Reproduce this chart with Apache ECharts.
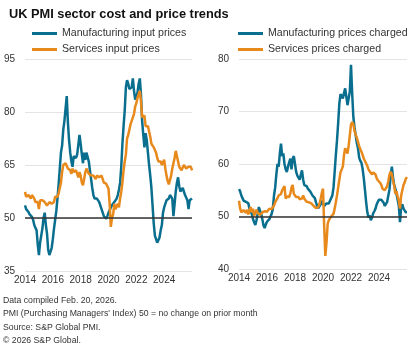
<!DOCTYPE html>
<html>
<head>
<meta charset="utf-8">
<script src="https://cdn.jsdelivr.net/npm/echarts@6.0.0/dist/echarts.min.js"></script>
<style>
  html, body { margin: 0; padding: 0; background: #fff; }
  #chart { width: 420px; height: 349px; }
</style>
</head>
<body>
<div id="chart"></div>
<script>
// monthly, Jan 2014 .. Jan 2026
var months = [];
for (var y = 2014; y <= 2026; y++) {
  for (var m = 1; m <= 12; m++) {
    if (y === 2026 && m > 1) break;
    months.push(y + '-' + (m < 10 ? '0' + m : m));
  }
}

var mfgInput = [
  53.6, 52.5, 52, 51.7, 51, 50.8, 50.3, 49.5, 48, 47.2, 46.5, 42.5,
  39.5, 43, 45, 47, 50, 51.5, 48, 45.5, 41, 39.5, 39.6, 41.5,
  44, 47, 49.5, 52, 55.5, 59.5, 64, 68.5, 70.5, 75, 77.5, 77,
  84.5, 77, 72, 68.5, 66, 64.5, 67.5, 68, 67, 68, 68.5, 73.5,
  71, 68, 65.5, 68.5, 66.5, 68.5, 68.5, 66, 63.5, 61, 58.5, 56.5,
  55.5, 55.3, 55.5, 55, 54.5, 53.5, 52.5, 51.5, 50.5, 50, 49.8, 50.5,
  51.5, 52, 53, 53.6, 54, 54.5, 55, 55.5, 56.5, 58, 60, 64.5,
  71, 76, 80.5, 87, 89, 88, 86.5, 86, 87, 89.5, 86, 83.5,
  83, 85.5, 88, 89.5, 85, 77.5, 73.5, 70, 74, 72, 68.5, 65,
  62, 58.5, 53.5, 48.5, 45, 44, 43, 43.5, 44.5, 46.5, 48, 51.5,
  53, 53.5, 55, 54.5, 55.5, 56.5, 57, 55.5, 50.5, 54, 57.5, 60,
  61.5, 59, 57.5, 58, 58.5, 57.5, 56.5, 56, 55, 52.5, 55, 55.5,
  55.5
];

var svcInput = [
  57.4, 56, 55.5, 56.5, 56, 55.5, 56.5, 56, 55.5, 54.5, 55, 54.5,
  52.5, 55, 54.5, 55, 55.5, 54.5, 54, 53.5, 54, 54.5, 54.5, 54,
  54, 54.5, 56, 56.5, 56, 57, 57.5, 60, 63, 65, 64.5, 65.5,
  66, 64, 64.5, 63.5, 62.5, 64, 63, 62.5, 63.5, 62.5, 61.5, 63,
  62, 60, 59.3, 61, 63, 64, 63.5, 62.5, 63, 62, 62.5, 62,
  61.5, 61, 62, 62.5, 61.5, 61.5, 62, 61, 60, 59.5, 59.7, 59,
  58.3, 54, 47.5, 50, 51, 54, 52.5, 53, 54, 53, 55.5, 57.5,
  60, 63.5, 66, 68, 72.5, 73.5, 74, 76.5, 77.5, 78.5, 79.5, 81.5,
  82.5, 84, 85, 86, 83, 78.5, 78.5, 79, 76, 75.5, 76, 74.5,
  73, 71, 70.5, 70, 69.5, 68.5, 67, 66, 65.5, 66, 65, 64.5,
  66.5, 64, 62, 60.5, 59.5, 60, 62, 64, 65.5, 67, 69, 67.5,
  66, 64.5, 64, 63.5, 64, 65, 64.5, 64, 63.5, 64.5, 64, 64.5,
  63.5
];

var mfgCharged = [
  55.2, 54.8, 54, 53.5, 53, 53.2, 52.8, 53, 52.5, 51.5, 51.5, 50.5,
  49.5, 48.9, 48.4, 49.3, 50.5, 51.8, 51.5, 50.5, 49.5, 48.3, 47.8, 48.5,
  49, 49.3, 49.5, 50, 50.5, 51.5, 54, 55.5, 58, 60, 59.5, 62,
  63.9, 61.5, 62, 60, 59, 58.5, 59.5, 60.3, 61, 59, 61, 61.5,
  60, 58.5, 57.8, 58, 57, 58, 58.8, 57, 56, 56.2, 55.8, 55.3,
  55.5, 54.8, 54.5, 54, 53.8, 53.5, 52.7, 52, 51.6, 51.5, 52.3, 53,
  53.2, 52, 52.3, 52.5, 52.7, 52.5, 53, 53.5, 54, 55.5, 58.5, 61.7,
  64.5, 67.8, 71.5, 73.3, 73, 72.5, 73.5, 74.4, 74.2, 71.2, 71, 73.8,
  78.9, 73.5, 69, 67, 65.5, 64, 63, 61.2, 60.6, 60.2, 59, 57.2,
  55, 52.7, 50.8, 49.8, 50.2, 49.3, 49.8, 50.6, 51, 51.5, 52.3, 52.8,
  53.2, 53.4, 53.2, 52.9, 52.6, 52, 51.8, 52.8, 54, 55.2, 57.8, 59.5,
  57.5, 56, 55.3, 54.3, 53.2, 52, 48.9, 51.9, 52.3, 51.5, 51.2, 50.8,
  50.8
];

var svcCharged = [
  53, 51.5, 50.8, 50.5, 51.2, 51.5, 50.7, 51.3, 50.4, 50.2, 51.8, 50.8,
  51.5, 50.2, 50.5, 51.3, 50.7, 51, 50.3, 50.5, 50.8, 50.8, 51, 51.1,
  50.9, 51.2, 51.5, 51.7, 51.4, 51.5, 52.1, 52.7, 53.1, 53.5, 54, 54.2,
  54.3, 55, 55.4, 55.8, 53.4, 53.8, 54, 53.7, 54.4, 55.5, 56, 54.3,
  54, 53.7, 53.4, 53.7, 53.3, 53, 53.4, 54, 53.4, 53.1, 52.8, 52.7,
  52.7, 52.7, 52.5, 52.4, 52, 51.8, 51.6, 51.4, 51.8, 52.4, 53.4, 54.5,
  55.3, 48.3, 42.5, 45, 48.6, 49.3, 49.5, 50, 49.8, 50.5, 51.5, 52.7,
  54, 55.5, 57, 58.4, 58.6, 59.5, 61.7, 63, 62.8, 62, 63.5, 65.5,
  67.5, 68, 67.6, 66.3, 65.6, 65, 64.2, 63.4, 62.8, 62.3, 61.7, 61,
  60.7, 60.1, 59.6, 59, 58.6, 58.3, 58, 58.4, 58.7, 58, 57.3, 56.9,
  56.7, 56.4, 56, 55.3, 55.2, 55, 55.3, 55.8, 56.7, 58, 58.5, 58.1,
  56.9, 55.9, 54.3, 54.8, 53.8, 53, 51.5, 54, 55, 56, 56.5, 57.2,
  57.5
];

var notes = [
  'Data compiled Feb. 20, 2026.',
  "PMI (Purchasing Managers' Index) 50 = no change on prior month",
  'Source: S&P Global PMI.',
  '\u00a9 2026 S&P Global.'
];

var TEAL = '#0a6f8e';
var ORANGE = '#e8891c';
var FONT = 'Arial, "Liberation Sans", sans-serif';

var chart = echarts.init(document.getElementById('chart'));

function xAxisFor(idx) {
  return {
    type: 'category',
    gridIndex: idx,
    data: months,
    boundaryGap: false,
    axisLine: { show: false },
    axisTick: { show: false },
    axisLabel: {
      interval: function (i) { return i % 24 === 0 && i < 144; },
      formatter: function (v) { return v.slice(0, 4); },
      fontSize: 10, color: '#333', margin: 4, fontFamily: FONT
    }
  };
}

function yAxisFor(idx, min, max, step) {
  return {
    type: 'value',
    gridIndex: idx,
    min: min, max: max, interval: step,
    axisLine: { show: false },
    axisTick: { show: false },
    axisLabel: { fontSize: 10, color: '#333', margin: 10, fontFamily: FONT },
    splitLine: { lineStyle: { color: '#e4e4e4', width: 1 } }
  };
}

var zeroLine = {
  silent: true,
  symbol: 'none',
  label: { show: false },
  lineStyle: { color: '#333', width: 1.5, type: 'solid' },
  data: [{ yAxis: 50 }]
};

function lineSeries(name, data, color, idx, withZero) {
  var s = {
    name: name,
    type: 'line',
    xAxisIndex: idx,
    yAxisIndex: idx,
    data: data,
    showSymbol: false,
    color: color,
    lineStyle: { color: color, width: 2.5 }
  };
  if (withZero) s.markLine = zeroLine;
  return s;
}

var legendBase = {
  orient: 'vertical',
  icon: 'rect',
  itemWidth: 25,
  itemHeight: 3,
  itemGap: 5,
  textStyle: { fontSize: 10.6, color: '#333', fontFamily: FONT }
};

chart.setOption({
  animation: false,
  title: {
    text: 'UK PMI sector cost and price trends',
    left: 4, top: 3,
    textStyle: { fontSize: 12.8, fontWeight: 'bold', color: '#111', fontFamily: FONT }
  },
  legend: [
    Object.assign({}, legendBase, {
      left: 27, top: 23,
      data: ['Manufacturing input prices', 'Services input prices']
    }),
    Object.assign({}, legendBase, {
      left: 233, top: 23,
      data: ['Manufacturing prices charged', 'Services prices charged']
    })
  ],
  grid: [
    { left: 25, right: 228, top: 59, bottom: 78 },
    { left: 239, right: 13, top: 59, bottom: 80 }
  ],
  xAxis: [xAxisFor(0), xAxisFor(1)],
  yAxis: [yAxisFor(0, 35, 95, 15), yAxisFor(1, 40, 80, 10)],
  series: [
    lineSeries('Manufacturing input prices', mfgInput, TEAL, 0, true),
    lineSeries('Services input prices', svcInput, ORANGE, 0, false),
    lineSeries('Manufacturing prices charged', mfgCharged, TEAL, 1, true),
    lineSeries('Services prices charged', svcCharged, ORANGE, 1, false)
  ],
  graphic: notes.map(function (t, i) {
    return {
      type: 'text',
      left: 3,
      top: 296 + i * 13.4,
      style: { text: t, fontSize: 8.7, fill: '#333', fontFamily: FONT }
    };
  })
});
</script>
</body>
</html>
